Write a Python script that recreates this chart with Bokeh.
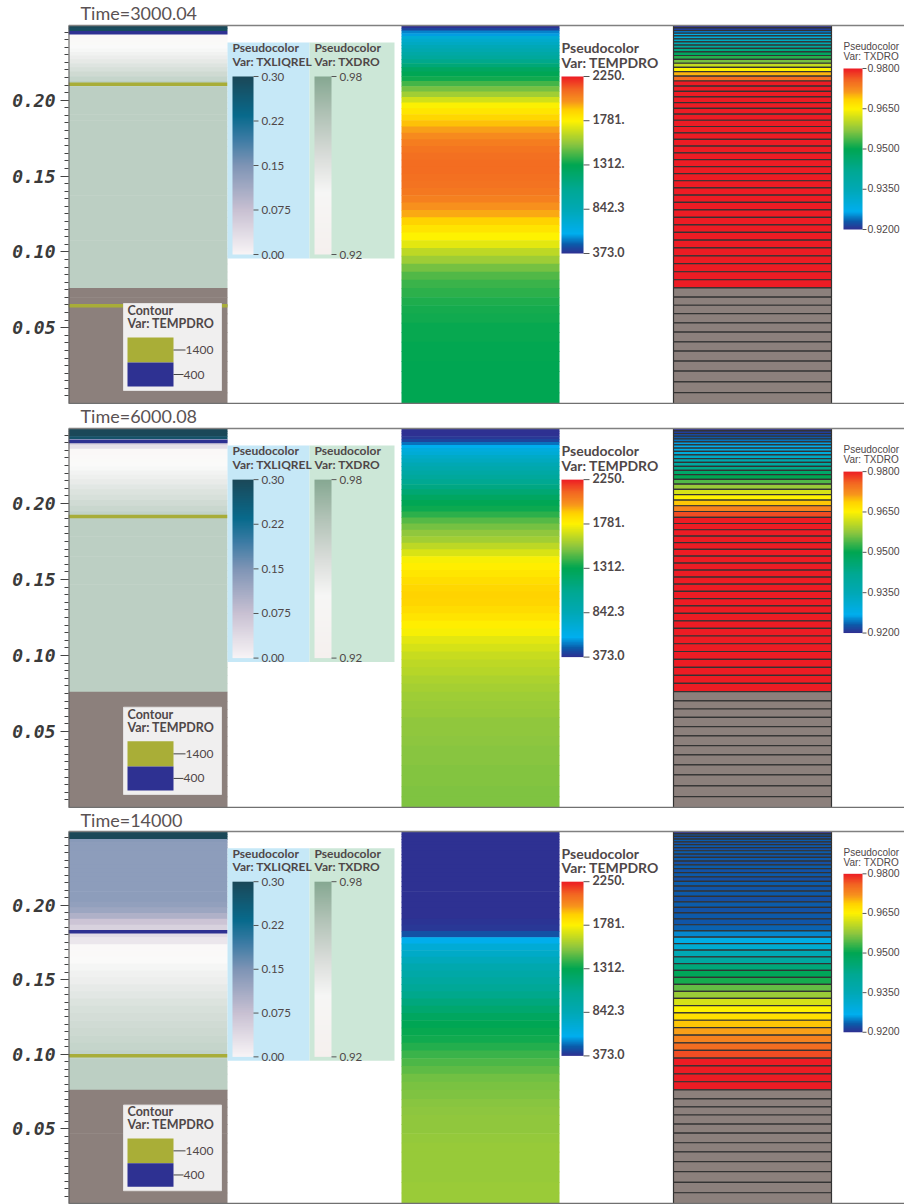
import numpy as np
from bokeh.plotting import figure
from bokeh.models import Range1d, LinearColorMapper, ColumnDataSource, FixedTicker, PrintfTickFormatter, Span
from bokeh.layouts import column
from bokeh.core.properties import value
from bokeh.embed import file_html
from bokeh.resources import INLINE

# ---------------- data ----------------
times = ["Time=3000.04", "Time=6000.08", "Time=14000"]

# mesh cell heights (mm), top -> bottom; last 12 cells are the base material (no TXDRO)
cell_mm = [1.6, 1.7, 1.8, 1.8, 1.9, 2.0, 2.1, 2.2, 2.3, 2.4, 2.5, 2.6, 2.7, 2.8, 3.0, 3.2,
           3.4, 3.5, 3.6, 3.7, 3.8, 3.9, 4.0, 4.1, 4.2, 4.3, 4.4, 4.5, 4.5, 4.6, 4.6,
           4.7, 4.7, 4.8, 4.8, 4.9, 4.9, 5.0, 5.0, 5.1, 5.1, 5.2, 5.2, 5.3, 5.3, 5.4,
           6.1, 5.3, 5.5, 6.1, 6.1, 6.4, 6.1, 6.6, 6.6, 7.2, 7.0, 7.2]

txdro_1 = [0.920, 0.921, 0.924, 0.928, 0.930, 0.933, 0.936, 0.940, 0.944, 0.948, 0.952, 0.956,
           0.961, 0.965, 0.970, 0.975] + [0.980] * 30 + [None] * 12
txdro_2 = [0.920, 0.921, 0.922, 0.923, 0.924, 0.926, 0.927, 0.928, 0.930, 0.933, 0.936, 0.939,
           0.943, 0.947, 0.950, 0.954, 0.958, 0.962, 0.965, 0.969, 0.973, 0.977] + [0.980] * 24 + [None] * 12
txdro_3 = [0.920, 0.9228, 0.9222, 0.9232, 0.9224, 0.9230, 0.9222, 0.9232, 0.9226, 0.9230, 0.9222,
           0.9232, 0.9224, 0.9230, 0.9222, 0.9232, 0.9226, 0.9230, 0.9222, 0.9232, 0.9224, 0.9230,
           0.9226, 0.9234,
           0.925, 0.928, 0.931, 0.935, 0.939, 0.945, 0.949, 0.951, 0.955, 0.958, 0.962, 0.965,
           0.967, 0.969, 0.971, 0.973, 0.975, 0.977] + [0.980] * 4 + [None] * 12

tempdro_1 = [380, 420, 520, 560, 700, 740, 780, 830, 880, 940, 1000, 1080, 1160, 1250, 1300, 1340,
             1420, 1500, 1580, 1680, 1770, 1820, 1870, 1920, 1970, 2010, 2050, 2070, 2085, 2090,
             2090, 2085, 2075, 2065, 2040, 2000, 1950, 1890, 1830, 1780, 1720, 1640, 1570, 1500,
             1440, 1400,
             1380, 1360, 1345, 1335, 1325, 1320, 1315, 1312, 1310, 1310, 1310, 1310]
tempdro_2 = [373, 375, 380, 390, 420, 500, 580, 660, 700, 760, 800, 850, 900, 950, 1000, 1060,
             1120, 1180, 1250, 1300, 1330, 1380, 1450, 1500, 1540, 1580, 1640, 1700, 1760, 1790,
             1820, 1850, 1870, 1885, 1880, 1860, 1830, 1790, 1760, 1720, 1690, 1660, 1640, 1620,
             1600, 1590,
             1575, 1565, 1555, 1545, 1540, 1535, 1530, 1525, 1520, 1520, 1515, 1515]
tempdro_3 = [373] * 20 + [375, 378, 382, 390,
             450, 600, 700, 760, 820, 880, 930, 980, 1030, 1080, 1140, 1200, 1260, 1300, 1320,
             1340, 1370, 1400, 1430, 1460, 1490, 1505,
             1515, 1525, 1535, 1540, 1545, 1550, 1555, 1555, 1560, 1560, 1565, 1565]

txliqrel_1 = [0.30, 0.29] + [None] * 56
txliqrel_2 = [0.30, 0.30, 0.30, 0.28, 0.12, 0.05, 0.03] + [None] * 51
txliqrel_3 = [0.30, 0.30, 0.30, 0.14] + [0.135] * 15 + [0.13, 0.12, 0.10, 0.07, 0.05, 0.035, 0.02] + [None] * 32

contour_1400 = [[0.2105, 0.0645], [0.1914], [0.0990]]
contour_400 = [[0.2445], [0.2407], [0.1822]]
contour_levels = ["1400", "400"]

y_ticks = [0.05, 0.10, 0.15, 0.20]
liq_ticks = [0.30, 0.225, 0.15, 0.075, 0.00]
liq_labels = ["0.30", "0.22", "0.15", "0.075", "0.00"]
gray_ticks = [0.98, 0.92]
gray_labels = ["0.98", "0.92"]
temp_ticks = [2250.0, 1781.0, 1312.0, 842.3, 373.0]
temp_labels = ["2250.", "1781.", "1312.", "842.3", "373.0"]
dro_ticks = [0.98, 0.965, 0.95, 0.935, 0.92]
dro_labels = ["0.9800", "0.9650", "0.9500", "0.9350", "0.9200"]

TXDRO = [txdro_1, txdro_2, txdro_3]
TEMP = [tempdro_1, tempdro_2, tempdro_3]
LIQ = [txliqrel_1, txliqrel_2, txliqrel_3]

# ---------------- palettes ----------------
def hex2rgb(h):
    return tuple(int(h[i:i + 2], 16) for i in (1, 3, 5))

def ramp(anchors, n=256):
    ts = [a[0] for a in anchors]
    cs = [hex2rgb(a[1]) for a in anchors]
    out = []
    for j in range(n):
        t = j / (n - 1)
        s = 0
        while s < len(ts) - 2 and t > ts[s + 1]:
            s += 1
        f = (t - ts[s]) / (ts[s + 1] - ts[s])
        f = min(max(f, 0.0), 1.0)
        c = [round(cs[s][m] + (cs[s + 1][m] - cs[s][m]) * f) for m in range(3)]
        out.append("#%02x%02x%02x" % tuple(c))
    return out

def wash(pal, a):
    return ["#%02x%02x%02x" % tuple(round(a * c + (1 - a) * 255) for c in hex2rgb(h)) for h in pal]

rainbow = ramp([(0.0, "#2E3192"), (0.05, "#0B5BAA"), (0.11, "#00AEEF"), (0.25, "#00A8B4"),
                (0.36, "#00A894"), (0.5, "#00A651"), (0.62, "#8DC63F"), (0.75, "#FFF200"),
                (0.81, "#FFD200"), (0.86, "#F7941D"), (0.93, "#F26522"), (1.0, "#ED1C24")])
graygreen = ramp([(0.0, "#F5F0EE"), (0.35, "#F6F6F5"), (0.55, "#DADDDA"), (0.78, "#B2C3B7"),
                  (1.0, "#86A892")])
liqpal = ramp([(0.0, "#F8F4F6"), (0.25, "#C8C0D2"), (0.5, "#7E94B5"), (0.65, "#3B7BA4"),
               (0.78, "#086A8C"), (1.0, "#1B4858")])

BASE = "#8C807C"
temp_map = LinearColorMapper(palette=rainbow, low=373.0, high=2250.0, nan_color=BASE)
dro_map = LinearColorMapper(palette=rainbow, low=0.92, high=0.98, nan_color=BASE)
gray_leg_map = LinearColorMapper(palette=graygreen, low=0.92, high=0.98)
gray_col_map = LinearColorMapper(palette=wash(graygreen, 0.55), low=0.92, high=0.98, nan_color=BASE)
liq_map = LinearColorMapper(palette=liqpal, low=0.0, high=0.30)

TXT = "#4F4748"

def txt(p, xs, ys, texts, size, font="Lato", color=TXT, style="normal", align="left"):
    p.text(x=xs, y=ys, text=texts, text_font=value(font), text_font_size=value(size),
           text_color=color, text_font_style=value(style), text_align=value(align),
           text_baseline=value("middle"))

def colorbar(p, mapper, lo, hi, x0, w, rel_top, rel_bot, ticks, labels, Y, size, font,
             dash=5, gap=3, lab_shift=0.0, style="normal"):
    yb, yt = Y(rel_bot), Y(rel_top)
    ramp_vals = np.linspace(lo, hi, 256).reshape(256, 1)
    p.image(image=[ramp_vals], x=[x0], y=[yb], dw=[w], dh=[yt - yb], color_mapper=mapper)
    ys = [yb + (v - lo) / (hi - lo) * (yt - yb) for v in ticks]
    p.segment(x0=[x0 + w] * len(ys), x1=[x0 + w + dash] * len(ys), y0=ys, y1=ys,
              line_color="#555555", line_width=1)
    ly = [y + lab_shift for y in ys]
    txt(p, [x0 + w + dash + gap] * len(ys), ly, labels, size, font=font, style=style)

def panel(idx, H, dom, extra):
    TOP = sum(cell_mm) / 1000.0
    k = TOP / dom
    p = figure(width=904, height=H, x_range=Range1d(0, 836),
               y_range=Range1d(-k, TOP + extra * k), output_backend="svg",
               toolbar_location=None, min_border_left=68, min_border_right=0,
               min_border_top=0, min_border_bottom=0, x_axis_location=None,
               outline_line_color=None, background_fill_color="white",
               border_fill_color="white")
    p.xgrid.visible = False
    p.ygrid.visible = False

    def Y(rel):
        return TOP * (1 - rel / 378.0)

    h = np.array(cell_mm) / 1000.0
    tops = TOP - np.concatenate([[0.0], np.cumsum(h)[:-1]])
    bots = tops - h
    bext = bots - 0.6 * k
    bext[-1] = bots[-1]
    dro = np.array(TXDRO[idx], dtype=float)
    tmp = np.array(TEMP[idx], dtype=float)
    liq = np.array(LIQ[idx], dtype=float)
    src = ColumnDataSource(dict(top=tops, bottom=bots, bext=bext, txdro=dro, temp=tmp))

    # column 1: TXDRO (washed grey-green) + TXLIQREL + contours
    p.quad(left=0, right=159, top="top", bottom="bext", source=src,
           fill_color={"field": "txdro", "transform": gray_col_map}, line_color=None)
    m = ~np.isnan(liq)
    src_l = ColumnDataSource(dict(top=tops[m], bottom=bext[m], v=liq[m]))
    p.quad(left=0, right=159, top="top", bottom="bottom", source=src_l,
           fill_color={"field": "v", "transform": liq_map}, line_color=None)
    c14 = contour_1400[idx]
    p.segment(x0=[0] * len(c14), x1=[159] * len(c14), y0=c14, y1=c14,
              line_color="#A8AD38", line_width=3.5)
    c4 = contour_400[idx]
    p.segment(x0=[0] * len(c4), x1=[159] * len(c4), y0=c4, y1=c4,
              line_color="#2E3192", line_width=3.5)

    # column 2: TEMPDRO
    p.quad(left=333, right=491, top="top", bottom="bext", source=src,
           fill_color={"field": "temp", "transform": temp_map}, line_color=None)
    # column 3: TXDRO (zonal, with mesh)
    p.quad(left=605, right=763, top="top", bottom="bottom", source=src,
           fill_color={"field": "txdro", "transform": dro_map}, line_color="#333333",
           line_width=1.2)

    # legends: TXLIQREL / TXDRO grey
    p.quad(left=[159], right=[241], top=[Y(17)], bottom=[Y(233)], fill_color="#C6E8F7",
           line_color=None)
    p.quad(left=[241], right=[326], top=[Y(17)], bottom=[Y(233)], fill_color="#CCE7D7",
           line_color=None)
    txt(p, [164, 164], [Y(22), Y(36)], ["Pseudocolor", "Var: TXLIQREL"], "12px", style="bold")
    txt(p, [246, 246], [Y(22), Y(36)], ["Pseudocolor", "Var: TXDRO"], "12px", style="bold")
    colorbar(p, liq_map, 0.0, 0.30, 164, 21, 51, 229, liq_ticks, liq_labels, Y, "11.5px", "Lato")
    colorbar(p, gray_leg_map, 0.92, 0.98, 246, 17, 51, 229, gray_ticks, gray_labels, Y, "11.5px", "Lato")

    # contour legend
    p.quad(left=[55], right=[153], top=[Y(278)], bottom=[Y(365)], fill_color="#F0EFEF",
           line_color="#E2E0E0")
    txt(p, [59, 59], [Y(285), Y(298)], ["Contour", "Var: TEMPDRO"], "12.5px", style="bold")
    p.quad(left=[59, 59], right=[105, 105], top=[Y(312), Y(337)], bottom=[Y(337), Y(361)],
           fill_color=["#A9AE37", "#2E3192"], line_color=None)
    p.segment(x0=[105, 105], x1=[117, 115], y0=[Y(324.5), Y(349)], y1=[Y(324.5), Y(349)],
              line_color="#444444", line_width=1)
    txt(p, [117, 115], [Y(324.5), Y(349)], contour_levels, "12px")

    # TEMPDRO legend
    txt(p, [493, 493], [Y(22), Y(37)], ["Pseudocolor", "Var: TEMPDRO"], "14px", style="bold")
    colorbar(p, temp_map, 373.0, 2250.0, 493, 22, 51, 228, temp_ticks, temp_labels, Y,
             "12.5px", "Lato", dash=6, gap=3, lab_shift=2 * k, style="bold")

    # TXDRO rainbow legend
    txt(p, [775, 775], [Y(21), Y(31)], ["Pseudocolor", "Var: TXDRO"], "10px",
        font="Liberation Sans")
    colorbar(p, dro_map, 0.92, 0.98, 775, 19, 43, 204, dro_ticks, dro_labels, Y, "10.5px",
             "Liberation Sans", dash=4, gap=1, lab_shift=1 * k)

    # frame lines, title
    p.add_layout(Span(location=TOP, dimension="width", line_color="#808080", line_width=1.5))
    p.add_layout(Span(location=0, dimension="width", line_color="#707070", line_width=1.5))
    p.segment(x0=[0], x1=[0], y0=[0], y1=[TOP], line_color="#555555", line_width=2)
    txt(p, [12], [TOP + (extra / 2.0 + 0.5) * k], [times[idx]], "18px", color="#5A5253")

    # y axis
    ax = p.yaxis[0]
    ax.ticker = FixedTicker(ticks=y_ticks, minor_ticks=[round(0.005 * i, 3) for i in range(1, 50)])
    ax.formatter = PrintfTickFormatter(format="%.2f")
    ax.axis_line_color = None
    ax.major_tick_out = 8
    ax.major_tick_in = 0
    ax.minor_tick_out = 4
    ax.minor_tick_in = 0
    ax.major_tick_line_color = "#444444"
    ax.minor_tick_line_color = "#444444"
    ax.major_label_standoff = 5
    ax.major_label_text_font = "DejaVu Sans Mono"
    ax.major_label_text_font_style = "bold italic"
    ax.major_label_text_font_size = "18px"
    ax.major_label_text_color = "#3A3A3A"
    return p

p1 = panel(0, 404, 378, 25)
p2 = panel(1, 404, 379, 24)
p3 = panel(2, 396, 372, 23)
layout = column(p1, p2, p3)

open("out.html", "w").write(file_html(layout, INLINE))
